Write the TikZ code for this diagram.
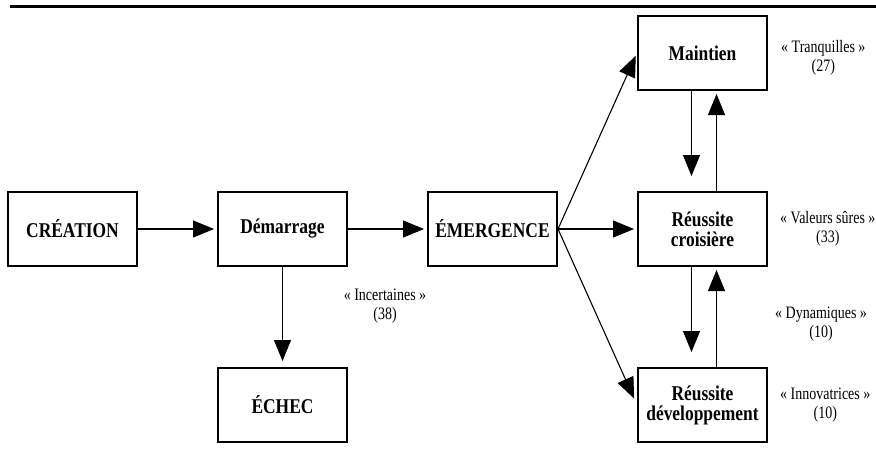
\documentclass[tikz,border=0pt]{standalone}
\usepackage{fontspec}
\setmainfont{Liberation Serif}
\newfontfamily\narrowfont[FakeStretch=0.83]{Liberation Serif}
\newfontfamily\labelfont[FakeStretch=0.8]{Liberation Serif}
\usetikzlibrary{positioning,arrows.meta}

\begin{document}
\begin{tikzpicture}[every node/.style = {inner sep=0pt},
    box/.style = {draw, line width=2pt, minimum width=129pt, minimum height=74pt,
        align=center, font=\narrowfont\fontsize{21}{20}\selectfont\bfseries},
    lab/.style = {align=center, font=\labelfont\fontsize{17.5}{19}\selectfont},
    fl/.style = {line width=1.1pt, -{Triangle[length=21pt,width=17pt]}, shorten >=3pt}]
    \useasboundingbox (0,0) rectangle (876pt,-456pt);
    \draw[line width=3pt] (10pt,-6pt) -- (876pt,-6pt);
    \node[box] (creation) at (72.5pt,-229pt) {CRÉATION};
    \node[box] (demarrage) [right = 79pt of creation] {Démarrage};
    \node[box] (emergence) [right = 79pt of demarrage] {ÉMERGENCE};
    \node[box] (echec) [below = 100pt of demarrage] {ÉCHEC};
    \node[box] (croisiere) [right = 79pt of emergence] {Réussite\\croisière};
    \node[box] (maintien) [above = 100pt of croisiere] {Maintien};
    \node[box] (developpement) [below = 100pt of croisiere] {Réussite\\développement};
    \node[lab] (tranquilles) [right = 13pt of maintien, yshift=-5pt] {« Tranquilles »\\(27)};
    \node[lab] (valeurs) [right = 12pt of croisiere] {« Valeurs sûres »\\(33)};
    \node[lab] (dynamiques) [anchor=west] at (775pt,-324pt) {« Dynamiques »\\(10)};
    \node[lab] (innovatrices) [right = 12pt of developpement] {« Innovatrices »\\(10)};
    \node[lab] (incertaines) at (385pt,-306pt) {« Incertaines »\\(38)};
    \draw[fl] (creation) -- (demarrage);
    \draw[fl] (demarrage) -- (emergence);
    \draw[fl, shorten >=6pt] (demarrage) -- (echec);
    \draw[fl] (emergence.east) -- (maintien.west);
    \draw[fl] (emergence.east) -- (croisiere.west);
    \draw[fl, shorten >=7pt] (emergence.east) -- (developpement.west);
    \draw[fl, shorten >=15pt] ([xshift=-11pt]maintien.south) -- ([xshift=-11pt]croisiere.north);
    \draw[fl] ([xshift=14pt]croisiere.north) -- ([xshift=14pt]maintien.south);
    \draw[fl, shorten >=15pt] ([xshift=-11pt]croisiere.south) -- ([xshift=-11pt]developpement.north);
    \draw[fl] ([xshift=14pt]developpement.north) -- ([xshift=14pt]croisiere.south);
\end{tikzpicture}
\end{document}
